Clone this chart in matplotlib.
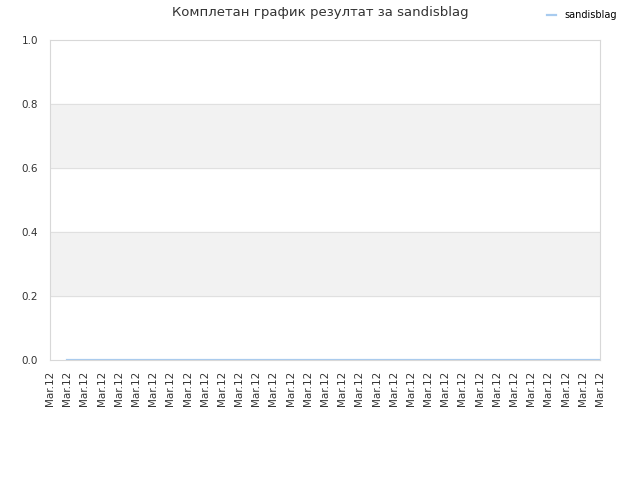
import matplotlib
matplotlib.use("Agg")
import matplotlib.pyplot as plt
import numpy as np

# chart data
dates = ["Mar.12"] * 33
scores = [np.nan] + [0.0] * 32
y_ticks = [0.0, 0.2, 0.4, 0.6, 0.8, 1.0]

fig = plt.figure(figsize=(6.4, 4.8), dpi=100)
ax = fig.add_axes([50 / 640, 120 / 480, 550 / 640, 320 / 480])

x = np.arange(len(dates))
ax.plot(x, scores, color="#a8cbef", linewidth=1.6, label="sandisblag")

# alternating bands
for lo, hi in [(0.2, 0.4), (0.6, 0.8)]:
    ax.axhspan(lo, hi, color="#f2f2f2", zorder=0)
for y in y_ticks[1:-1]:
    ax.axhline(y, color="#e0e0e0", linewidth=0.8, zorder=0.5)

ax.set_xlim(0, len(dates) - 1)
ax.set_ylim(0, 1)
ax.set_yticks(y_ticks)
ax.set_yticklabels(["%.1f" % v for v in y_ticks])
ax.set_xticks(x)
ax.set_xticklabels(dates, rotation=90)
ax.tick_params(axis="both", length=0, labelsize=7.5, colors="#333333")
ax.tick_params(axis="y", pad=8.5)
ax.tick_params(axis="x", pad=8)
for s in ax.spines.values():
    s.set_color("#d8d8d8")

fig.text(0.5, 0.988, "Комплетан график резултат за sandisblag", ha="center", va="top",
         fontsize=9.5, color="#333333")
fig.legend(*ax.get_legend_handles_labels(), loc="center left", bbox_to_anchor=(0.855, 0.968),
           frameon=False, fontsize=7, handlelength=0.9, handletextpad=0.9,
           borderpad=0, borderaxespad=0)

fig.savefig("out.png", dpi=100)
